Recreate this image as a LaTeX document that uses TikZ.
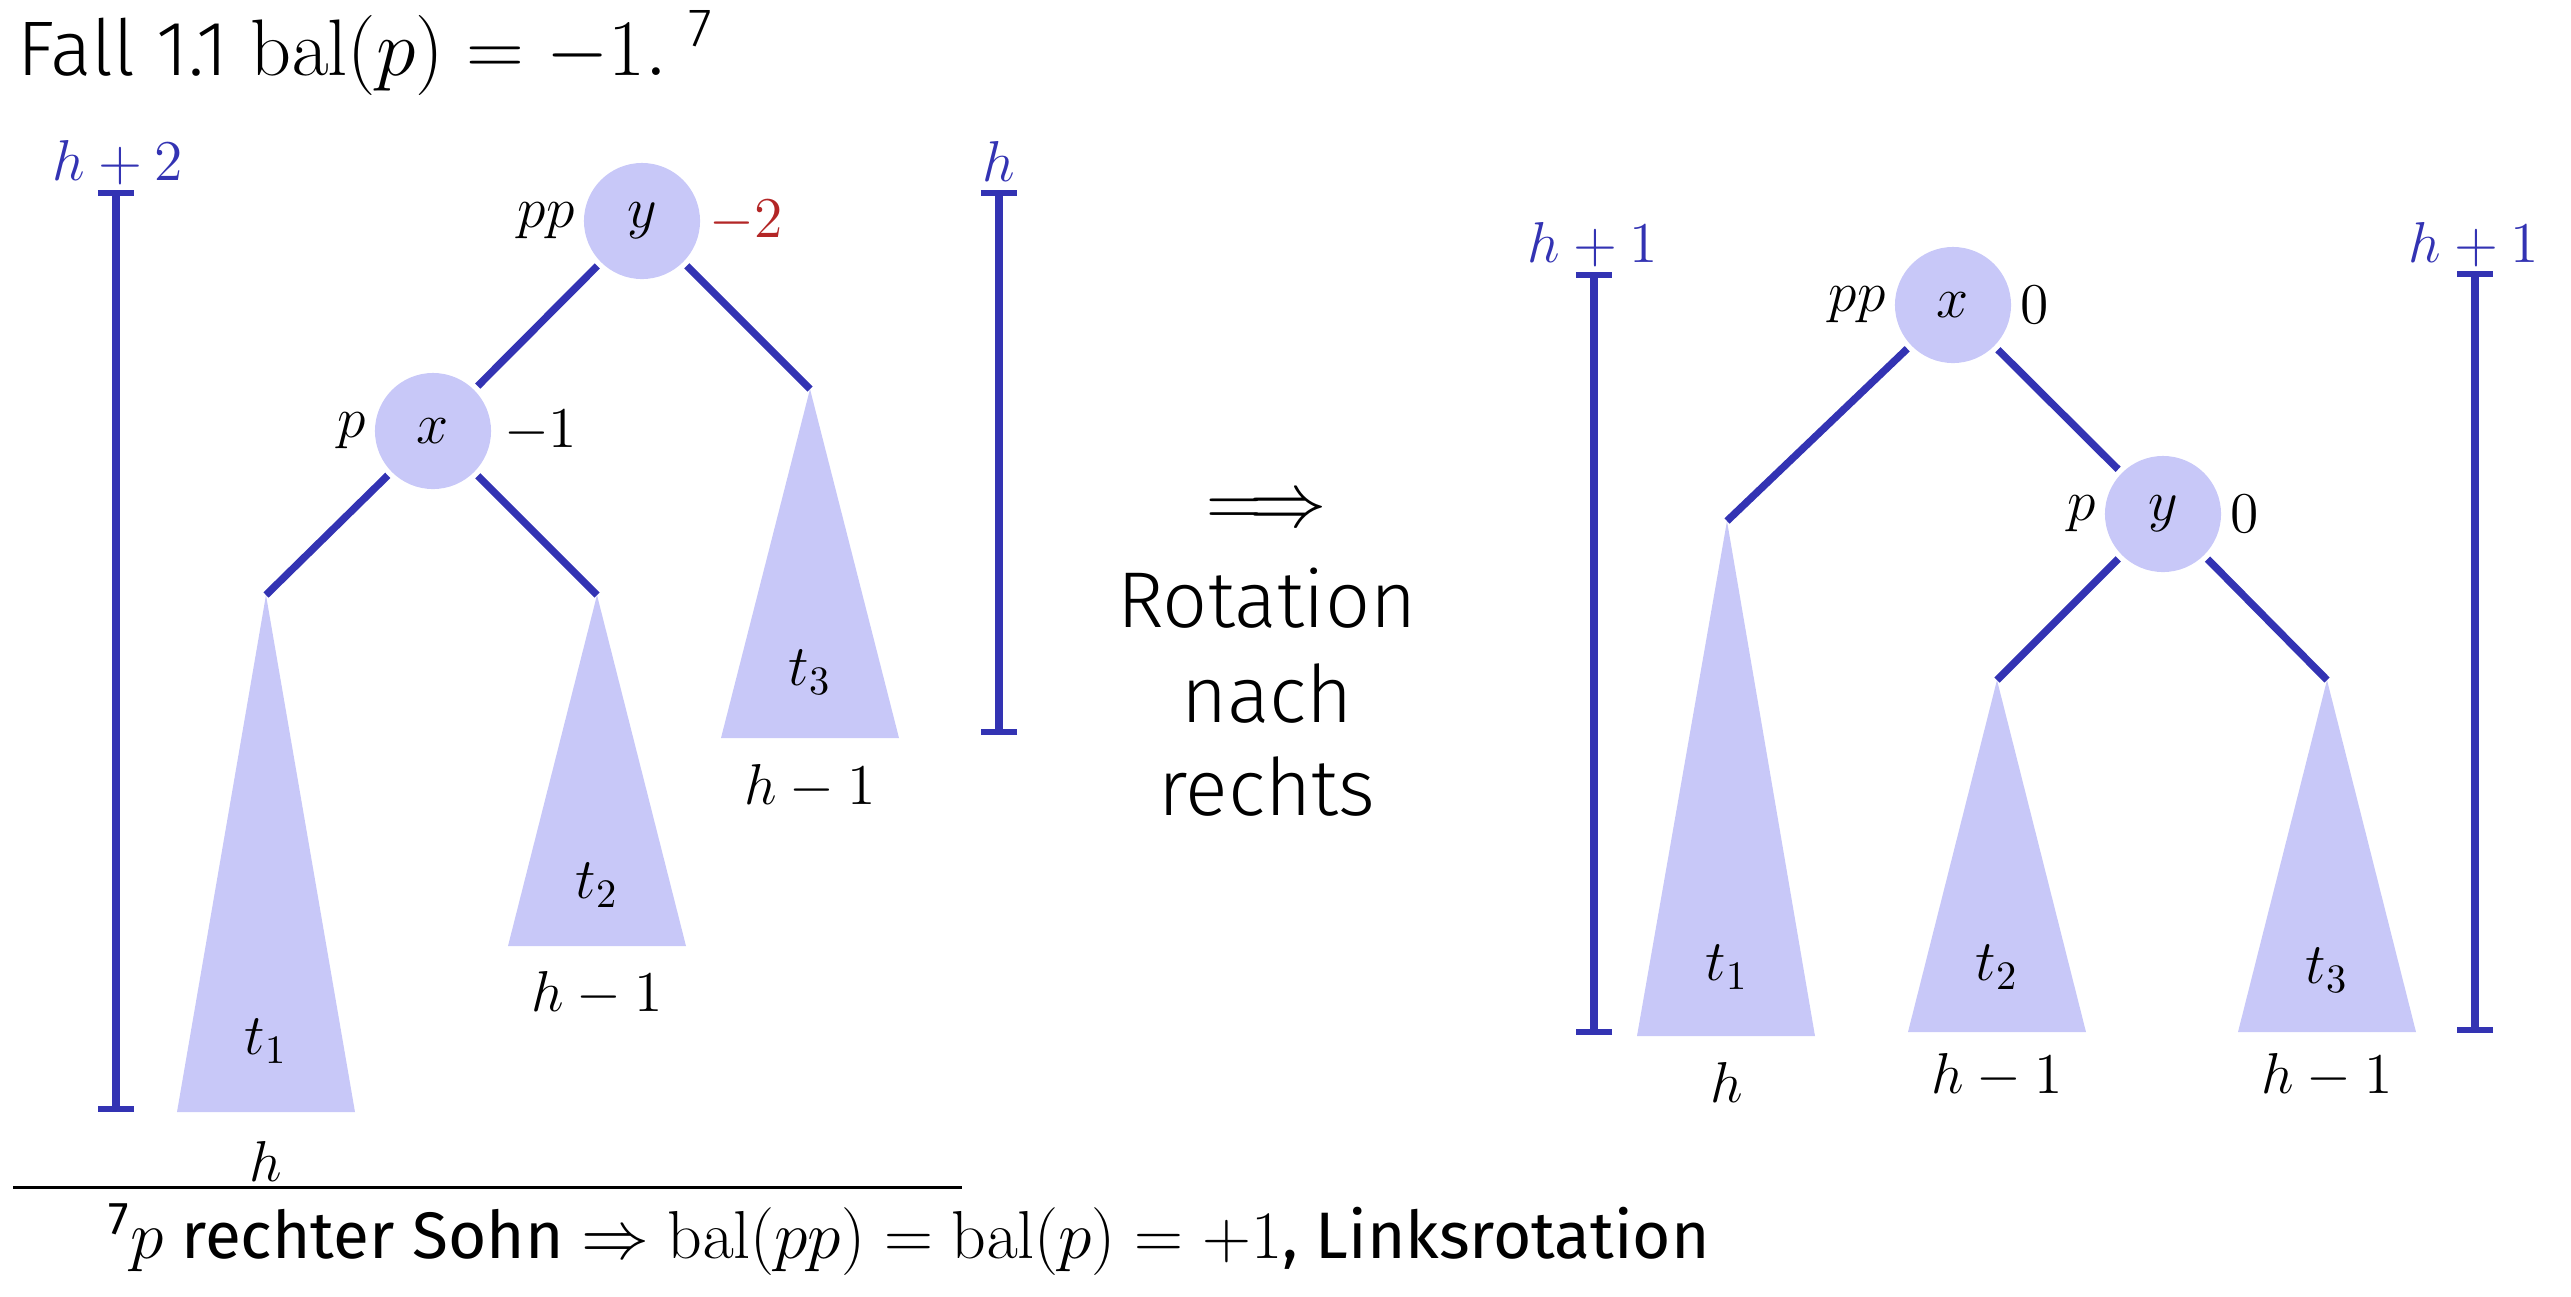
\RequirePackage{fix-cm}
\documentclass[tikz,border=0pt]{standalone}
\usepackage[no-math]{fontspec}
\newfontfamily\lightfont{Fira Sans Light}
\newfontfamily\regfont{Fira Sans}
\usetikzlibrary{arrows.meta}
\definecolor{tfill}{RGB}{200,200,248}
\definecolor{tblue}{RGB}{51,51,179}
\definecolor{tred}{RGB}{179,38,38}
\newcommand\treefont{\fontsize{16.4}{20}\selectfont}
\begin{document}
\begin{tikzpicture}[x=0.01cm,y=-0.01cm,
  knot/.style={circle,fill=tfill,minimum size=1.16cm,inner sep=0pt,outer sep=1.5pt,font=\treefont},
  edge/.style={draw=tblue,line width=2.1pt},
  subtree/.style={fill=tfill},
  bar/.style={draw=tblue,line width=2pt,{Bar[width=0.36cm,line width=1.6pt]}-{Bar[width=0.36cm,line width=1.6pt]}},
  barlabel/.style={anchor=base,text=tblue,font=\treefont,inner sep=0pt},
  sidel/.style={anchor=east,inner sep=1pt,font=\treefont},
  sider/.style={anchor=west,inner sep=1pt,font=\treefont},
  tlabel/.style={font=\treefont,inner sep=0pt},
  big/.style={anchor=base,inner sep=0pt,font=\lightfont\fontsize{22.5}{26}\selectfont}]
\useasboundingbox (0,0) rectangle (2571,1296);

% title
\node[anchor=base west,inner sep=0pt,font=\lightfont\fontsize{22}{26}\selectfont] (title) at (17,75)
  {Fall 1.1 {\fontsize{22.8}{26}\selectfont$\mathrm{bal}(p)=-1.$}\ \textsuperscript{7}};

% ---------- left tree ----------
\coordinate (a1) at (266,595);
\coordinate (a2) at (597,595);
\coordinate (a3) at (810,389);
\fill[subtree] (a1) -- (355,1112) -- (177,1112) -- cycle;
\fill[subtree] (a2) -- (686,946) -- (508,946) -- cycle;
\fill[subtree] (a3) -- (899,738) -- (721,738) -- cycle;
\node[knot] (Y1) at (642,221) {$y$};
\node[knot] (X1) at (433,431) {$x$};
\node[sidel] (Y1pp) at (Y1.west) {$pp$};
\node[sider,text=tred] (Y1bal) at (Y1.east) {$-2$};
\node[sidel] (X1p) at (X1.west) {$p$};
\node[sider,xshift=1pt] (X1bal) at (X1.east) {$-1$};
\draw[edge] (Y1) -- (X1);
\draw[edge] (Y1) -- (a3);
\draw[edge] (X1) -- (a1);
\draw[edge] (X1) -- (a2);
\node[tlabel] (T1l) at (266,1041) {$t_1$};
\node[tlabel] (T2l) at (597,885) {$t_2$};
\node[tlabel] (T3l) at (810,672) {$t_3$};
\node[tlabel] (H1l) at (266,1161) {$h$};
\node[tlabel] (H2l) at (597,994) {$h-1$};
\node[tlabel] (H3l) at (810,787) {$h-1$};
\draw[bar] (116,190) -- (116,1112);
\node[barlabel] (B1) at (118,180) {$h+2$};
\draw[bar] (999,190) -- (999,735);
\node[barlabel] (B2) at (999,181) {$h$};

% ---------- middle ----------
\node[inner sep=0pt,font=\fontsize{22}{26}\selectfont] (arr) at (1267,512) {$\Longrightarrow$};
\node[big] (r1) at (1267,627) {Rotation};
\node[big] (r2) at (1267,722) {nach};
\node[big] (r3) at (1267,815) {rechts};

% ---------- right tree ----------
\coordinate (b1) at (1727,521);
\coordinate (b2) at (1997,680);
\coordinate (b3) at (2327,680);
\fill[subtree] (b1) -- (1815,1036) -- (1637,1036) -- cycle;
\fill[subtree] (b2) -- (2086,1032) -- (1908,1032) -- cycle;
\fill[subtree] (b3) -- (2416,1032) -- (2238,1032) -- cycle;
\node[knot] (X2) at (1953,305) {$x$};
\node[knot] (Y2) at (2163,514) {$y$};
\node[sidel] (X2pp) at (X2.west) {$pp$};
\node[sider] (X2bal) at (X2.east) {$0$};
\node[sidel] (Y2p) at (Y2.west) {$p$};
\node[sider] (Y2bal) at (Y2.east) {$0$};
\draw[edge] (X2) -- (b1);
\draw[edge] (X2) -- (Y2);
\draw[edge] (Y2) -- (b2);
\draw[edge] (Y2) -- (b3);
\node[tlabel] (U1l) at (1727,967) {$t_1$};
\node[tlabel] (U2l) at (1997,967) {$t_2$};
\node[tlabel] (U3l) at (2327,970) {$t_3$};
\node[tlabel] (G1l) at (1727,1082) {$h$};
\node[tlabel] (G2l) at (1997,1076) {$h-1$};
\node[tlabel] (G3l) at (2327,1076) {$h-1$};
\draw[bar] (1594,272) -- (1594,1035);
\node[barlabel] (B3) at (1593,262) {$h+1$};
\draw[bar] (2475,271) -- (2475,1033);
\node[barlabel] (B4) at (2474,262) {$h+1$};

% ---------- footnote ----------
\coordinate (fl) at (13,1187);
\coordinate (fr) at (962,1187);
\draw[line width=0.85pt] (fl) -- (fr);
\node[anchor=base west,inner sep=0pt,font=\regfont\fontsize{18.7}{22}\selectfont] (foot) at (108,1258)
  {\textsuperscript{7}{\fontsize{19.3}{22}\selectfont$p$} rechter Sohn {\fontsize{19.3}{22}\selectfont$\Rightarrow\mathrm{bal}(pp)=\mathrm{bal}(p)=+1$}, Linksrotation};
\end{tikzpicture}
\end{document}
